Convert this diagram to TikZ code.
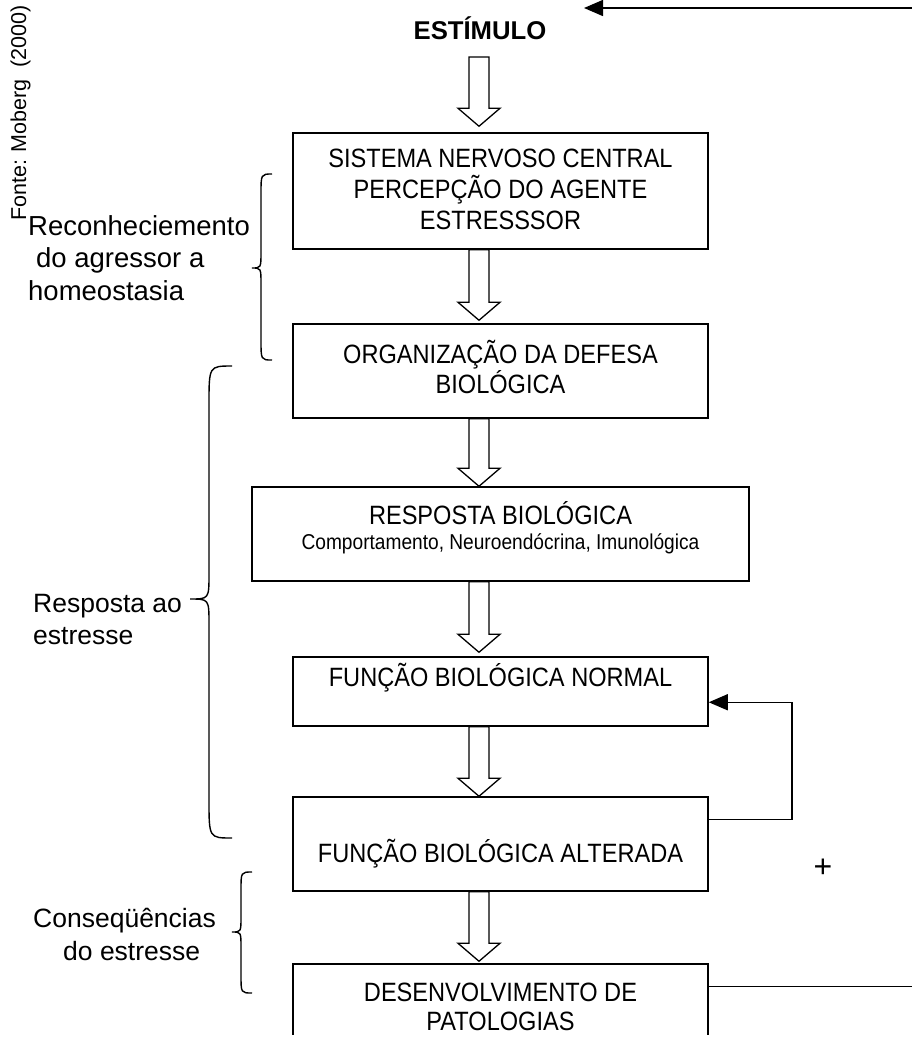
\documentclass[tikz,border=0pt]{standalone}
\usepackage{fontspec}
\setmainfont{Liberation Sans}
\newfontfamily\boxfont{Liberation Sans}[FakeStretch=0.89]
\usetikzlibrary{arrows.meta,calc}
\newcommand\hollowarr[2]{%
  \draw[hollow] let \p1=(#1), \p2=(#2) in
   (\x1-10pt,\y1) -- (\x1-10pt,\y2+18pt) -- (\x1-21pt,\y2+18pt) -- (\x2,\y2)
   -- (\x1+21pt,\y2+18pt) -- (\x1+10pt,\y2+18pt) -- (\x1+10pt,\y1) -- cycle;}
\newcommand\wbrace[8]{%
  \draw[bracestyle] (#1,#4) .. controls (#2,#4) .. (#2,#4+#7) -- (#2,#5-#8)
   .. controls (#2,#5) .. (#3,#5) .. controls (#2,#5) .. (#2,#5+#8)
   -- (#2,#6-#7) .. controls (#2,#6) .. (#1,#6);}
\begin{document}
\begin{tikzpicture}[x=1pt,y=-1pt,
  box/.style={draw, line width=1.5pt, minimum width=415pt, inner sep=0pt},
  boxtext/.style={align=center, font=\boxfont\fontsize{26.5}{31}\selectfont, inner sep=0pt},
  smalltext/.style={font=\boxfont\fontsize{21.5}{22}\selectfont, inner sep=0pt},
  lbl/.style={align=left, inner sep=0pt, anchor=west},
  hollow/.style={draw, line width=1.3pt, fill=white, line join=miter},
  conn/.style={line width=1.5pt},
  bracestyle/.style={line width=1.4pt},
  tipstyle/.style={-{Triangle[length=19pt,width=16pt]}},
]
\useasboundingbox (0,0) rectangle (912,1042);

% source note
\node[rotate=90, anchor=base, inner sep=0pt, font=\fontsize{21.5}{21.5}\selectfont] (fonte) at (26,113) {Fonte: Moberg\ \ (2000)};

% stimulus
\node[anchor=base, inner sep=0pt, font=\fontsize{25.7}{26}\selectfont\bfseries] (estim) at (480,39.2) {ESTÍMULO};

% boxes
\node[box, minimum height=116pt] (b1) at (500.5,191) {};
\node[box, minimum height=94pt] (b2) at (500.5,371) {};
\node[box, minimum width=497pt, minimum height=94pt] (b3) at (500.5,534) {};
\node[box, minimum height=69pt] (b4) at (500.5,691.5) {};
\node[box, minimum height=94pt] (b5) at (500.5,844) {};
\begin{scope}
  \clip (0,0) rectangle (912,1034);
  \node[box, minimum height=94pt] (b6) at (500.5,1011) {};
\end{scope}

% box texts
\node[boxtext] (t1) at (500.5,189) {SISTEMA NERVOSO CENTRAL\\PERCEPÇÃO DO AGENTE\\ESTRESSSOR};
\node[boxtext, font=\boxfont\fontsize{26.5}{30}\selectfont] (t2) at (500.5,367) {ORGANIZAÇÃO DA DEFESA\\BIOLÓGICA};
\node[boxtext, anchor=base] (t3a) at (500.5,524) {RESPOSTA BIOLÓGICA};
\node[smalltext, anchor=base] (t3b) at (500.5,549) {Comportamento, Neuroendócrina, Imunológica};
\node[boxtext, anchor=base] (t4) at (500.5,686) {FUNÇÃO BIOLÓGICA NORMAL};
\node[boxtext, anchor=base] (t5) at (500.5,862) {FUNÇÃO BIOLÓGICA ALTERADA};
\node[boxtext, font=\boxfont\fontsize{26.5}{29}\selectfont] (t6) at (500.5,1007) {DESENVOLVIMENTO DE\\PATOLOGIAS};

% hollow arrows
\coordinate (ax) at (479,0);
\coordinate (s0) at (479,57);
\hollowarr{s0}{$(b1.north -| ax)+(0,-6)$}
\hollowarr{b1.south -| ax}{$(b2.north -| ax)+(0,-3)$}
\hollowarr{b2.south -| ax}{b3.north -| ax}
\hollowarr{b3.south -| ax}{$(b4.north -| ax)+(0,-4)$}
\hollowarr{b4.south -| ax}{b5.north -| ax}
\hollowarr{b5.south -| ax}{$(b6.north -| ax)+(0,-2)$}

% feedback loop
\draw[conn, tipstyle] ([yshift=-23pt]b5.north east) -- ++(83,0) |- ([yshift=-46pt]b4.north east);
\node[inner sep=0pt, font=\fontsize{32}{32}\selectfont] (plus) at (823,868) {+};

% return line and top arrow
\coordinate (topR) at (913,8);
\coordinate (topTip) at (584,8);
\draw[conn, tipstyle] (topR) -- (topTip);
\draw[conn] ([yshift=-23pt]b6.north east) -- ++(210,0) coordinate (botR);

% braces
\wbrace{272}{261}{252}{174}{268}{360}{20}{16}
\wbrace{232}{209}{190}{366}{599}{838}{38}{25}
\wbrace{252}{241}{232}{872}{932}{993}{18}{15}

% labels
\node[lbl, font=\fontsize{27.5}{32.5}\selectfont] (l1) at (28,258) {Reconheciemento\\\hspace*{8pt}do agressor a\\homeostasia};
\node[lbl, font=\fontsize{26.5}{32}\selectfont] (l2) at (33,619.4) {Resposta ao\\estresse};
\node[lbl, font=\fontsize{26.5}{33}\selectfont] (l3) at (33,934.7) {Conseqüências\\\hspace*{30pt}do estresse};
\end{tikzpicture}
\end{document}
